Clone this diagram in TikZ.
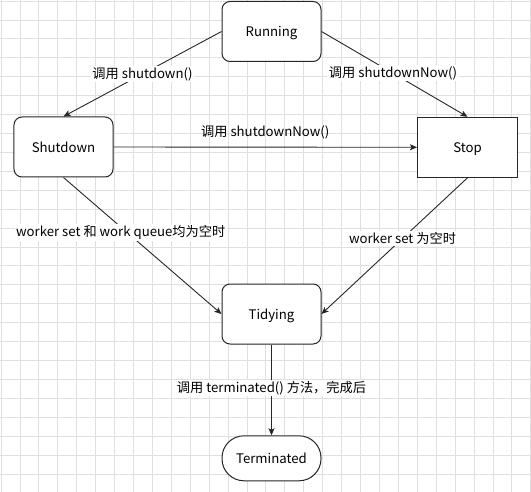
\documentclass[tikz,border=0pt]{standalone}
\usepackage{fontspec}
\setmainfont{Noto Sans CJK SC}
\usetikzlibrary{arrows.meta,positioning}

\begin{document}
\begin{tikzpicture}[x=1bp, y=-1bp, >={Stealth[length=7bp,width=6bp,inset=1.5bp]},
    font=\fontsize{13.2bp}{15bp}\selectfont,
    gridline/.style={gray!25, line width=0.8bp},
    state/.style={draw=black!85, line width=1bp, fill=white, rounded corners=8bp,
      minimum width=99bp, minimum height=60bp, inner sep=0pt,
      text height=1.1em, text depth=0pt},
    flow/.style={->, draw=black!85, line width=0.9bp},
    edgelabel/.style={fill=white, inner sep=1.5bp}]
    \useasboundingbox (0,0) rectangle (531,492);

    % background grid
    \foreach \i in {0,...,28}
      \draw[gridline] (1+\i*18.92,0) -- (1+\i*18.92,492);
    \foreach \j in {0,...,26}
      \draw[gridline] (0,1+\j*18.92) -- (531,1+\j*18.92);

    \node[state] (running) at (271.5,31.5) {Running};
    \node[state] (shutdown) at (63.5,147) {Shutdown};
    \node[state, rounded corners=0pt, minimum width=100bp] (stop) at (467.5,147.3) {Stop};
    \node[state] (tidying) at (271.5,314) {Tidying};
    \node[state, rounded corners=22bp, minimum height=45bp] (terminated) at (271.5,458.3) {Terminated};

    \draw[flow] (running.west) -- (shutdown.north) node[edgelabel, pos=0.5] {调用 shutdown()};
    \draw[flow] (running.east) -- (stop.north) node[edgelabel, pos=0.49] {调用 shutdownNow()};
    \draw[flow] (shutdown.east) -- (stop.west) node[pos=0.5, above=4bp] {调用 shutdownNow()};
    \draw[flow] (shutdown.south) -- (tidying.west) node[edgelabel, pos=0.40, xshift=-6bp] {worker set 和 work queue均为空时};
    \draw[flow] (stop.south) -- (tidying.east) node[edgelabel, pos=0.445] {worker set 为空时};
    \draw[flow] (tidying.south) -- (terminated.north) node[edgelabel, pos=0.48] {调用 terminated() 方法，完成后};
\end{tikzpicture}
\end{document}
